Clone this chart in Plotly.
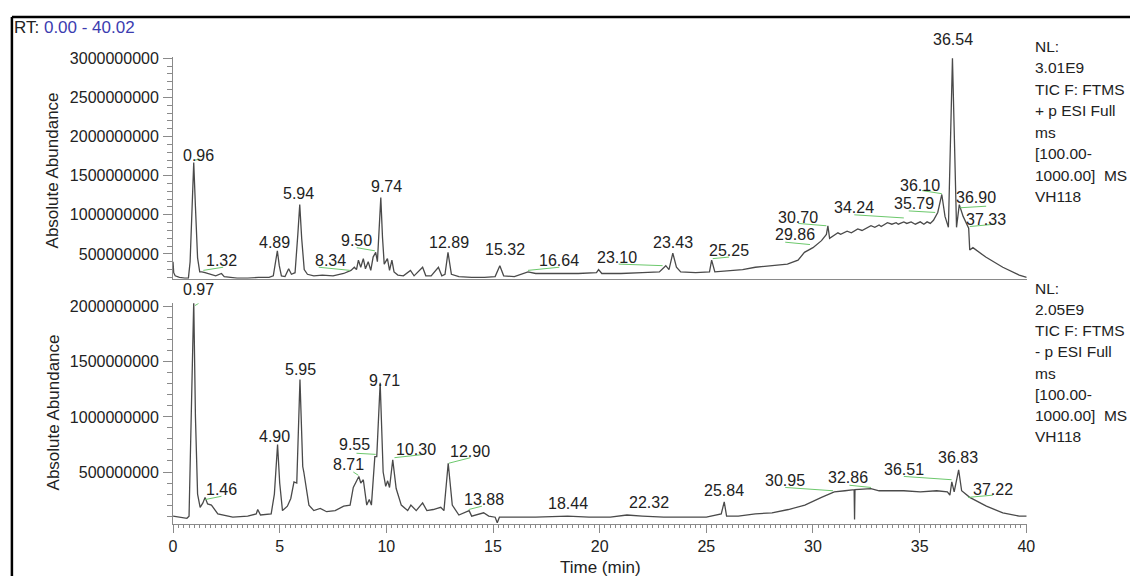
import plotly.graph_objects as go

W, H = 1139, 576
FONT = "Arial, Liberation Sans, sans-serif"

# ---------------- data (abundance in units of 1e9) ----------------
pos_time = [0.00, 0.03, 0.10, 0.30, 0.55, 0.72, 0.80, 0.88, 0.97, 1.05, 1.15, 1.25, 1.35, 1.50, 1.80, 2.00,
            2.27, 2.40, 3.00, 3.50, 4.00, 4.50, 4.70, 4.80, 4.89, 4.98, 5.08, 5.25, 5.42, 5.55, 5.72, 5.85,
            5.94, 6.03, 6.15, 6.30, 6.60, 7.00, 7.50, 8.00, 8.34, 8.50, 8.60, 8.69, 8.80, 8.92, 9.02, 9.15,
            9.27, 9.38, 9.50, 9.58, 9.66, 9.74, 9.82, 9.90, 10.05, 10.15, 10.26, 10.36, 10.54, 10.80, 11.13,
            11.30, 11.70, 11.85, 12.10, 12.44, 12.60, 12.75, 12.89, 13.05, 13.40, 14.00, 14.60, 15.10, 15.32,
            15.50, 16.00, 16.64, 17.00, 18.00, 19.00, 19.85, 19.95, 20.10, 21.00, 22.00, 22.80, 23.10, 23.25,
            23.43, 23.60, 23.80, 24.50, 25.15, 25.25, 25.40, 26.00, 26.70, 27.30, 28.20, 28.80, 29.30, 29.60,
            30.00, 30.40, 30.63, 30.70, 30.78, 31.17, 31.30, 31.60, 31.80, 31.94, 32.10, 32.30, 32.50, 32.72,
            32.90, 33.10, 33.20, 33.49, 33.70, 33.90, 34.00, 34.26, 34.40, 34.60, 34.80, 35.03, 35.20, 35.35,
            35.50, 35.65, 35.85, 36.04, 36.19, 36.35, 36.54, 36.73, 36.86, 37.04, 37.30, 37.35, 37.50, 38.10,
            38.90, 39.67, 40.02]
pos_abund = [0.40, 0.26, 0.22, 0.20, 0.19, 0.19, 0.40, 1.00, 1.67, 1.10, 0.45, 0.27, 0.27, 0.26, 0.24, 0.22,
             0.25, 0.21, 0.19, 0.19, 0.20, 0.20, 0.22, 0.40, 0.54, 0.35, 0.22, 0.21, 0.31, 0.24, 0.26, 0.75,
             1.13, 0.70, 0.30, 0.24, 0.22, 0.23, 0.22, 0.25, 0.29, 0.33, 0.30, 0.42, 0.33, 0.44, 0.31, 0.40,
             0.29, 0.46, 0.52, 0.40, 0.92, 1.22, 0.71, 0.37, 0.44, 0.29, 0.42, 0.27, 0.23, 0.22, 0.29,
             0.22, 0.33, 0.22, 0.22, 0.33, 0.22, 0.24, 0.52, 0.24, 0.21, 0.20, 0.20, 0.21, 0.35,
             0.22, 0.21, 0.27, 0.25, 0.25, 0.25, 0.26, 0.30, 0.25, 0.25, 0.26, 0.27, 0.35, 0.30,
             0.51, 0.33, 0.27, 0.26, 0.27, 0.42, 0.27, 0.28, 0.30, 0.33, 0.35, 0.37, 0.42, 0.52,
             0.58, 0.67, 0.75, 0.86, 0.70, 0.77, 0.75, 0.79, 0.77, 0.79, 0.82, 0.80, 0.83, 0.86,
             0.84, 0.87, 0.85, 0.90, 0.88, 0.90, 0.88, 0.91, 0.89, 0.91, 0.88, 0.91, 0.88, 0.91,
             0.89, 0.93, 1.03, 1.26, 0.98, 0.84, 3.00, 0.84, 1.13, 0.98, 0.83, 0.55, 0.58, 0.46,
             0.33, 0.23, 0.20]

neg_time = [0.00, 0.30, 0.65, 0.75, 0.85, 0.97, 1.05, 1.15, 1.27, 1.40, 1.50, 1.62, 1.80, 2.10, 2.80, 3.50,
            3.90, 3.97, 4.10, 4.60, 4.75, 4.90, 5.00, 5.13, 5.36, 5.52, 5.67, 5.80, 5.95, 6.08, 6.13, 6.20,
            6.37, 6.60, 6.90, 7.20, 7.60, 8.00, 8.30, 8.45, 8.60, 8.71, 8.80, 8.92, 9.08, 9.20, 9.30, 9.46,
            9.55, 9.71, 9.85, 9.97, 10.06, 10.15, 10.30, 10.46, 10.70, 11.00, 11.15, 11.40, 11.70, 11.90,
            12.20, 12.55, 12.70, 12.90, 13.09, 13.40, 13.88, 14.00, 14.56, 14.80, 15.10, 15.20, 15.30, 16.00,
            17.00, 18.50, 19.50, 20.50, 21.28, 22.00, 23.00, 24.00, 25.00, 25.70, 25.84, 25.95, 26.50, 27.30,
            28.08, 28.85, 29.62, 30.40, 31.00, 31.50, 31.93, 31.95, 31.97, 32.72, 33.10, 33.49, 34.26, 35.03,
            35.80, 36.30, 36.42, 36.51, 36.62, 36.83, 36.97, 37.35, 38.13, 38.90, 39.67, 40.02]
neg_abund = [0.10, 0.09, 0.08, 0.10, 0.90, 2.05, 1.00, 0.30, 0.18, 0.22, 0.27, 0.21, 0.20, 0.12, 0.09, 0.10,
             0.12, 0.16, 0.11, 0.12, 0.30, 0.75, 0.40, 0.15, 0.19, 0.26, 0.41, 0.40, 1.34, 0.55, 0.50, 0.40,
             0.20, 0.15, 0.17, 0.14, 0.15, 0.19, 0.20, 0.36, 0.42, 0.46, 0.40, 0.43, 0.20, 0.25, 0.20, 0.64,
             0.64, 1.31, 0.50, 0.37, 0.42, 0.36, 0.61, 0.35, 0.20, 0.15, 0.20, 0.15, 0.22, 0.15,
             0.16, 0.18, 0.15, 0.58, 0.20, 0.11, 0.15, 0.10, 0.13, 0.10, 0.09, 0.04, 0.09, 0.09,
             0.09, 0.10, 0.09, 0.09, 0.11, 0.10, 0.09, 0.09, 0.09, 0.12, 0.23, 0.10, 0.10, 0.12,
             0.13, 0.16, 0.20, 0.27, 0.32, 0.33, 0.34, 0.07, 0.34, 0.35, 0.33, 0.33, 0.33, 0.32,
             0.33, 0.32, 0.29, 0.41, 0.32, 0.52, 0.33, 0.27, 0.19, 0.13, 0.10, 0.10]

# peak labels: text, label centre (time, abundance)
pos_lbl_text = ["0.96", "1.32", "4.89", "5.94", "8.34", "9.50", "9.74", "12.89", "15.32", "16.64", "23.10",
                "23.43", "25.25", "29.86", "30.70", "34.24", "35.79", "36.10", "36.54", "36.90", "37.33"]
pos_lbl_time = [1.19, 2.27, 4.74, 5.90, 7.37, 8.61, 10.00, 12.93, 15.56, 18.11, 20.82,
                23.44, 26.07, 29.16, 29.31, 31.94, 34.72, 35.03, 36.58, 37.66, 38.12]
pos_lbl_abund = [1.76, 0.415, 0.65, 1.27, 0.415, 0.67, 1.36, 0.65, 0.56, 0.415, 0.46,
                 0.65, 0.54, 0.75, 0.96, 1.09, 1.15, 1.38, 3.24, 1.22, 0.94]

neg_lbl_text = ["0.97", "1.46", "4.90", "5.95", "8.71", "9.55", "9.71", "10.30", "12.90", "13.88", "18.44",
                "22.32", "25.84", "30.95", "32.86", "36.51", "36.83", "37.22"]
neg_lbl_time = [1.19, 2.27, 4.74, 5.98, 8.22, 8.53, 9.92, 11.39, 13.94, 14.56, 18.50,
                22.29, 25.84, 28.70, 31.63, 34.26, 36.81, 38.43]
neg_lbl_abund = [2.15, 0.34, 0.82, 1.43, 0.57, 0.75, 1.33, 0.70, 0.69, 0.25, 0.21,
                 0.22, 0.33, 0.42, 0.45, 0.52, 0.63, 0.34]

# green leader lines (start time, start abundance, end time, end abundance)
pos_lead_t0 = [1.03, 1.42, 6.83, 8.61, 16.64, 20.89, 25.30, 28.70, 29.31, 31.94, 34.49, 35.11, 36.89, 37.35]
pos_lead_a0 = [1.70, 0.29, 0.33, 0.58, 0.29, 0.37, 0.44, 0.65, 0.89, 1.00, 1.05, 1.31, 1.09, 0.85]
pos_lead_t1 = [1.27, 2.35, 8.30, 9.46, 18.11, 22.95, 26.07, 29.86, 30.63, 34.26, 35.73, 36.04, 38.12, 38.51]
pos_lead_a1 = [1.71, 0.33, 0.29, 0.54, 0.33, 0.35, 0.46, 0.62, 0.86, 0.96, 1.03, 1.27, 1.11, 0.88]

neg_lead_t0 = [1.03, 1.50, 8.45, 8.60, 10.38, 12.93, 13.86, 28.70, 31.71, 34.26, 37.27]
neg_lead_a0 = [2.01, 0.25, 0.50, 0.67, 0.63, 0.58, 0.16, 0.36, 0.38, 0.46, 0.27]
neg_lead_t1 = [1.20, 2.27, 8.69, 9.50, 11.78, 13.94, 14.48, 30.94, 32.72, 36.50, 38.43]
neg_lead_a1 = [2.03, 0.28, 0.47, 0.66, 0.66, 0.63, 0.19, 0.33, 0.36, 0.43, 0.29]

pos_info = ["NL:", "3.01E9", "TIC F: FTMS", "+ p ESI Full", "ms", "[100.00-", "1000.00]&nbsp; MS", "VH118"]
neg_info = ["NL:", "2.05E9", "TIC F: FTMS", "- p ESI Full", "ms", "[100.00-", "1000.00]&nbsp; MS", "VH118"]

y_ticks_top = [0.5, 1.0, 1.5, 2.0, 2.5, 3.0]
y_ticks_bot = [0.5, 1.0, 1.5, 2.0]
x_ticks = [0, 5, 10, 15, 20, 25, 30, 35, 40]

assert len(pos_time) == len(pos_abund)
assert len(neg_time) == len(neg_abund)

E9 = 1e9
TRACE_C = "#4a4a4a"
AXIS_C = "#8a8a8a"
GREEN = "#6cc86c"
TXT_C = "#222222"

# ---------------- layout geometry (pixels) ----------------
def px(v):
    return v / W


def py(v):
    return 1 - v / H


XDOM = [px(171), px(1034.5)]
TOP_DOM = [py(275), py(50.4)]
BOT_DOM = [py(523.3), py(300)]
TOP_RANGE = [0.184 * E9, 3.02 * E9]
BOT_RANGE = [0.029 * E9, 2.03 * E9]

fig = go.Figure()

fig.add_trace(go.Scatter(x=pos_time, y=[a * E9 for a in pos_abund], mode="lines",
                         line=dict(color=TRACE_C, width=1.3), xaxis="x", yaxis="y", showlegend=False))
fig.add_trace(go.Scatter(x=neg_time, y=[a * E9 for a in neg_abund], mode="lines",
                         line=dict(color=TRACE_C, width=1.3), xaxis="x2", yaxis="y2", showlegend=False))


def leaders(t0, a0, t1, a1):
    xs, ys = [], []
    for i in range(len(t0)):
        xs += [t0[i], t1[i], None]
        ys += [a0[i] * E9, a1[i] * E9, None]
    return xs, ys


lx, ly = leaders(pos_lead_t0, pos_lead_a0, pos_lead_t1, pos_lead_a1)
fig.add_trace(go.Scatter(x=lx, y=ly, mode="lines", line=dict(color=GREEN, width=1),
                         xaxis="x", yaxis="y", showlegend=False, cliponaxis=False))
lx, ly = leaders(neg_lead_t0, neg_lead_a0, neg_lead_t1, neg_lead_a1)
fig.add_trace(go.Scatter(x=lx, y=ly, mode="lines", line=dict(color=GREEN, width=1),
                         xaxis="x2", yaxis="y2", showlegend=False, cliponaxis=False))


def label_annots(texts, times, abunds, xref, yref, dom, rng):
    # pixels per abundance unit, used to lift labels that sit above the axis top
    ppu = (dom[1] - dom[0]) * H / (rng[1] - rng[0])
    out = []
    for t, x, a in zip(texts, times, abunds):
        y = a * E9
        shift = 0
        if y > rng[1]:
            shift = (y - rng[1]) * ppu
            y = rng[1]
        out.append(dict(text=t, x=x, y=y, yshift=shift, xref=xref, yref=yref, showarrow=False,
                        font=dict(size=16, color=TXT_C, family=FONT), xanchor="center", yanchor="middle"))
    return out


annotations = []
annotations += label_annots(pos_lbl_text, pos_lbl_time, pos_lbl_abund, "x", "y", TOP_DOM, TOP_RANGE)
annotations += label_annots(neg_lbl_text, neg_lbl_time, neg_lbl_abund, "x2", "y2", BOT_DOM, BOT_RANGE)

for i, line in enumerate(pos_info):
    annotations.append(dict(text=line, x=px(1041), y=py(40 + i * 21.7), xref="paper", yref="paper",
                            showarrow=False, xanchor="left", yanchor="middle",
                            font=dict(size=15.5, color=TXT_C, family=FONT)))
for i, line in enumerate(neg_info):
    annotations.append(dict(text=line, x=px(1041), y=py(285 + i * 21.4), xref="paper", yref="paper",
                            showarrow=False, xanchor="left", yanchor="middle",
                            font=dict(size=15.5, color=TXT_C, family=FONT)))

annotations.append(dict(text="RT: <span style='color:#3c3cb0'>0.00 - 40.02</span>", x=px(8), y=py(21),
                        xref="paper", yref="paper", showarrow=False, xanchor="left", yanchor="middle",
                        font=dict(size=17, color=TXT_C, family=FONT)))
annotations.append(dict(text="Absolute Abundance", x=px(50), y=py(165), xref="paper", yref="paper",
                        showarrow=False, textangle=-90, xanchor="center", yanchor="middle",
                        font=dict(size=17, color=TXT_C, family=FONT)))
annotations.append(dict(text="Absolute Abundance", x=px(50), y=py(410), xref="paper", yref="paper",
                        showarrow=False, textangle=-90, xanchor="center", yanchor="middle",
                        font=dict(size=17, color=TXT_C, family=FONT)))
annotations.append(dict(text="Time (min)", x=px(603), y=py(567), xref="paper", yref="paper",
                        showarrow=False, xanchor="center", yanchor="middle",
                        font=dict(size=17, color=TXT_C, family=FONT)))

yaxis_common = dict(showline=True, linecolor=AXIS_C, linewidth=1, ticks="outside", ticklen=9,
                    tickcolor=AXIS_C, tickformat="d", showgrid=False, zeroline=False,
                    ticklabelstandoff=1,
                    tickfont=dict(size=16, color=TXT_C, family=FONT),
                    minor=dict(ticks="outside", ticklen=5, dtick=0.1 * E9, tickcolor=AXIS_C, showgrid=False))

fig.update_layout(
    width=W, height=H, margin=dict(l=0, r=0, t=0, b=0),
    paper_bgcolor="white", plot_bgcolor="white",
    font=dict(family=FONT, color=TXT_C),
    xaxis=dict(domain=XDOM, range=[0, 40.02], anchor="y", showline=True, linecolor=AXIS_C, linewidth=1,
               showticklabels=False, ticks="", showgrid=False, zeroline=False),
    yaxis=dict(domain=TOP_DOM, range=TOP_RANGE, anchor="x",
               tickvals=[v * E9 for v in y_ticks_top], **yaxis_common),
    xaxis2=dict(domain=XDOM, range=[0, 40.02], anchor="y2", showline=True, linecolor=AXIS_C, linewidth=1,
                tickvals=x_ticks, ticks="outside", ticklen=8, tickcolor=AXIS_C, showgrid=False, zeroline=False,
                tickfont=dict(size=16, color=TXT_C, family=FONT),
                minor=dict(ticks="outside", ticklen=3, dtick=0.25, tickcolor=AXIS_C, showgrid=False)),
    xaxis3=dict(overlaying="x2", anchor="y2", range=[0, 40.02], tickvals=list(range(0, 41)),
                ticks="outside", ticklen=5, tickcolor=AXIS_C, showticklabels=False, showline=False,
                showgrid=False, zeroline=False),
    yaxis2=dict(domain=BOT_DOM, range=BOT_RANGE, anchor="x2",
                tickvals=[v * E9 for v in y_ticks_bot], **yaxis_common),
    annotations=annotations,
    shapes=[
        dict(type="line", xref="paper", yref="paper", x0=px(8), x1=px(8), y0=0, y1=py(10),
             line=dict(color="black", width=2.5)),
        dict(type="line", xref="paper", yref="paper", x0=px(8), x1=1, y0=py(10), y1=py(10),
             line=dict(color="black", width=2.5)),
    ],
)

fig.write_html("out.html")
